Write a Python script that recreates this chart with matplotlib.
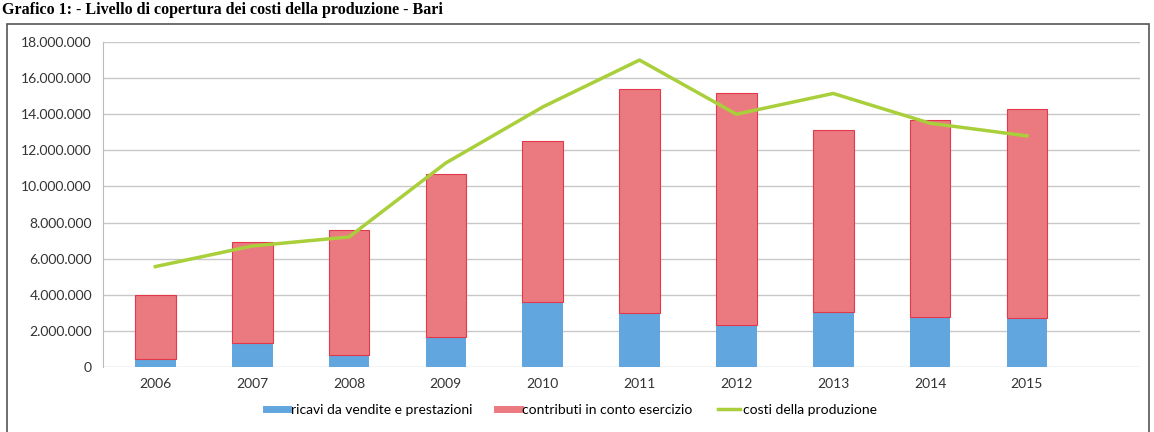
import matplotlib.pyplot as plt
import numpy as np
from matplotlib.patches import Rectangle
from matplotlib.lines import Line2D
from matplotlib.ticker import FuncFormatter

# Data
years = ['2006', '2007', '2008', '2009', '2010', '2011', '2012', '2013', '2014', '2015']
ricavi = [450000, 1320000, 650000, 1650000, 3580000, 2980000, 2310000, 3030000, 2750000, 2700000]
contributi = [3550000, 5580000, 6950000, 9050000, 8920000, 12390000, 12890000, 10070000, 10950000, 11570000]
costi = [5560000, 6700000, 7200000, 11300000, 14400000, 17000000, 14000000, 15150000, 13500000, 12800000]
series_names = ['ricavi da vendite e prestazioni', 'contributi in conto esercizio', 'costi della produzione']

plt.rcParams['font.family'] = ['Lato', 'DejaVu Sans']

fig = plt.figure(figsize=(11.54, 4.32), dpi=100)
ax = fig.add_axes([0.0893, 0.1505, 0.8987, 0.7523])

x = np.arange(len(years))
ax.bar(x, ricavi, width=0.42, color='#62a6df', zorder=2)
ax.bar(x, contributi, width=0.42, bottom=ricavi, color='#eb7a80', edgecolor='#e2394a',
       linewidth=0.8, zorder=2)
ax.plot(x, costi, color='#a9cf3a', linewidth=2.5, zorder=3)

ax.set_ylim(0, 18000000)
ax.set_yticks(np.arange(0, 18000001, 2000000))
ax.yaxis.set_major_formatter(FuncFormatter(lambda v, p: f'{int(v):,}'.replace(',', '.')))
ax.set_xticks(x)
ax.set_xticklabels(years)
ax.set_xlim(-0.54, 10.17)
ax.grid(axis='y', color='#c8c8c8', linewidth=1, zorder=0)
ax.tick_params(axis='both', length=0, labelsize=10, colors='#333333', pad=8)
for s in ['top', 'right', 'bottom']:
    ax.spines[s].set_visible(False)
ax.spines['left'].set_color('#bbbbbb')

# legend at the bottom, short thick handles
h = [Line2D([0], [0], color='#62a6df', lw=5),
     Line2D([0], [0], color='#eb7a80', lw=5),
     Line2D([0], [0], color='#a9cf3a', lw=2.5)]
fig.legend(h, series_names, loc='center', bbox_to_anchor=(0.495, 1 - 410 / 432), ncol=3,
           frameon=False, fontsize=10, handlelength=1.6, handletextpad=0.2, columnspacing=1.8)

# chart frame
fig.patches.append(Rectangle((0.006, -0.01), 0.99, 0.955, transform=fig.transFigure,
                             fill=False, edgecolor='#555555', linewidth=1.2))

fig.text(0.002, 1 - 14 / 432, 'Grafico 1: - Livello di copertura dei costi della produzione - Bari',
         family='Liberation Serif', weight='bold', fontsize=11.5, va='baseline', ha='left')

fig.savefig('out.png', dpi=100)
